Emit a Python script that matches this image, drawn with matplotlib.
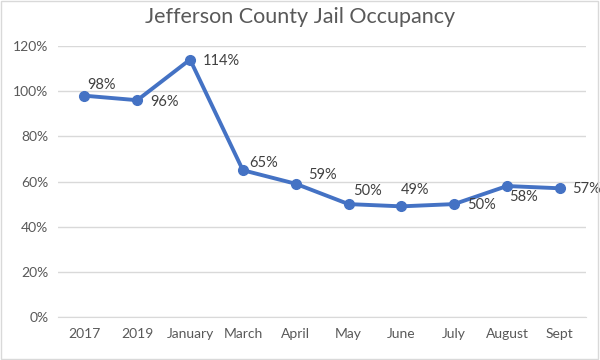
import matplotlib
matplotlib.use('Agg')
import matplotlib.pyplot as plt
from matplotlib.ticker import FuncFormatter

# chart data
months = ['2017', '2019', 'January', 'March', 'April', 'May', 'June', 'July', 'August', 'Sept']
occupancy = [98, 96, 114, 65, 59, 50, 49, 50, 58, 57]
# label offsets in pixels (dx, dy) copied from the reference layout
label_offsets = [(3, 11), (13, -2), (13, -1), (6, 7), (12, 9),
                 (5, 13), (-1, 16), (13, -1), (2, -11), (12, -1)]

plt.rcParams['font.family'] = ['Lato', 'DejaVu Sans']
text_color = '#595959'
line_color = '#4472C4'

fig = plt.figure(figsize=(6, 3.6), dpi=100)
ax = fig.add_axes([0.0967, 0.1194, 0.8803, 0.7528])

x = list(range(len(months)))
ax.plot(x, occupancy, color=line_color, linewidth=2.8, marker='o', markersize=7, zorder=3)

for i, v in enumerate(occupancy):
    dx, dy = label_offsets[i]
    ax.annotate(f'{v}%', xy=(i, v), xytext=(dx, dy), textcoords='offset pixels',
                ha='left', va='center', fontsize=10.5, color='#404040')

ax.set_xlim(-0.5, len(months) - 0.5)
ax.set_ylim(0, 120)
ax.set_yticks(range(0, 121, 20))
ax.yaxis.set_major_formatter(FuncFormatter(lambda v, p: f'{int(v)}%'))
ax.set_xticks(x)
ax.set_xticklabels(months)

ax.grid(axis='y', color='#D9D9D9', linewidth=1)
ax.set_axisbelow(True)
for s in ['top', 'right', 'left']:
    ax.spines[s].set_visible(False)
ax.spines['bottom'].set_color('#D9D9D9')
ax.tick_params(axis='both', length=0, labelsize=10, labelcolor=text_color)
ax.tick_params(axis='y', pad=7)
ax.tick_params(axis='x', pad=8)

fig.text(0.5, 0.953, 'Jefferson County Jail Occupancy', ha='center', va='center',
         fontsize=15.5, color=text_color)

# outer chart border
fig.patches.append(plt.Rectangle((0.002, 0.003), 0.995, 0.993, transform=fig.transFigure,
                                 fill=False, edgecolor='#D9D9D9', linewidth=1))

fig.savefig('out.png', dpi=100)
